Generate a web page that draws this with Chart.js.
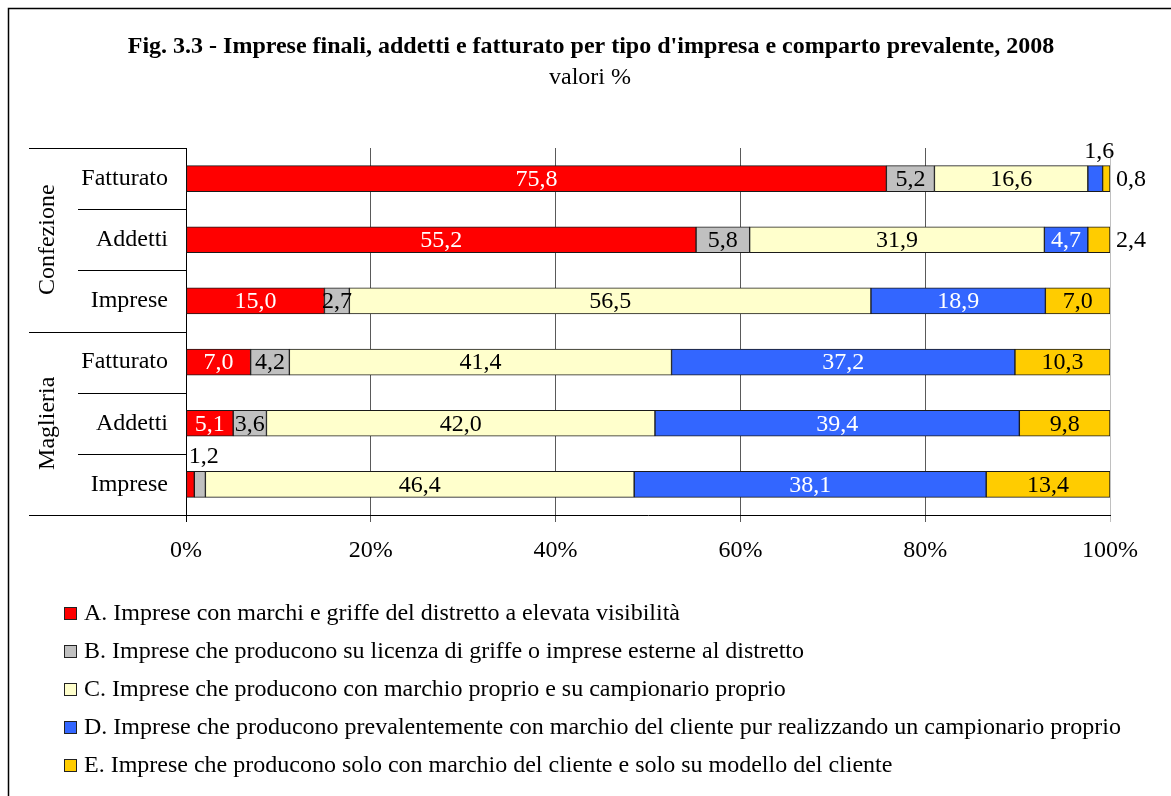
<!DOCTYPE html>
<html><head><meta charset="utf-8">
<script src="https://cdn.jsdelivr.net/npm/chart.js@4"></script>
<style>html,body{margin:0;padding:0;background:#fff;} canvas{display:block}</style>
</head><body>
<canvas id="c" width="1171" height="796"></canvas>
<script>
const titleText = "Fig. 3.3 - Imprese finali, addetti e fatturato per tipo d'impresa e comparto prevalente, 2008";
const subtitleText = "valori %";
const groups = ["Confezione", "Maglieria"];
const groupSize = 3;
const categories = ["Fatturato", "Addetti", "Imprese", "Fatturato", "Addetti", "Imprese"];
const seriesLabels = [
  "A. Imprese con marchi e griffe del distretto a elevata visibilità",
  "B. Imprese che producono su licenza di griffe o imprese esterne al distretto",
  "C. Imprese che producono con marchio proprio e su campionario proprio",
  "D. Imprese che producono prevalentemente con marchio del cliente pur realizzando un campionario proprio",
  "E. Imprese che producono solo con marchio del cliente e solo su modello del cliente"
];
const seriesA = [75.8, 55.2, 15.0, 7.0, 5.1, 0.9];
const seriesB = [5.2, 5.8, 2.7, 4.2, 3.6, 1.2];
const seriesC = [16.6, 31.9, 56.5, 41.4, 42.0, 46.4];
const seriesD = [1.6, 4.7, 18.9, 37.2, 39.4, 38.1];
const seriesE = [0.8, 2.4, 7.0, 10.3, 9.8, 13.4];
const xTickValues = [0, 20, 40, 60, 80, 100];

const allSeries = [seriesA, seriesB, seriesC, seriesD, seriesE];
const fillColors = ['#FF0000', '#C0C0C0', '#FFFFCC', '#3366FF', '#FFCC00'];
const textColors = ['#FFFFFF', '#000000', '#000000', '#FFFFFF', '#000000'];
const FONT = '"Liberation Serif", "Times New Roman", serif';
const FS = 24;

// 100% stacked: normalise each row for drawing
const rowTotals = categories.map((_, j) => allSeries.reduce((s, arr) => s + arr[j], 0));
const datasets = allSeries.map((arr, i) => ({
  label: seriesLabels[i],
  data: arr.map((v, j) => v * 100 / rowTotals[j]),
  backgroundColor: fillColors[i],
  borderColor: '#1a1a1a',
  borderWidth: 1,
  borderSkipped: false,
  barThickness: 26
}));

const fmt = v => v.toFixed(1).replace('.', ',');

const decorPlugin = {
  id: 'decor',
  beforeDraw(chart) {
    const ctx = chart.ctx;
    ctx.save();
    ctx.fillStyle = '#fff';
    ctx.fillRect(0, 0, chart.width, chart.height);
    ctx.strokeStyle = '#000';
    ctx.lineWidth = 1.5;
    ctx.strokeRect(8.5, 8.5, 3000, 3000);
    ctx.fillStyle = '#000';
    ctx.textAlign = 'center';
    ctx.textBaseline = 'middle';
    ctx.font = 'bold ' + FS + 'px ' + FONT;
    ctx.fillText(titleText, 591, 47);
    ctx.font = FS + 'px ' + FONT;
    ctx.fillText(subtitleText, 590, 78);
    ctx.restore();
  },
  afterDraw(chart) {
    const ctx = chart.ctx;
    const ys = chart.scales.y;
    const area = chart.chartArea;
    ctx.save();
    ctx.strokeStyle = '#000';
    ctx.lineWidth = 1;
    const line = (x1, y, x2) => {
      const yy = Math.round(y) + 0.5;
      ctx.beginPath(); ctx.moveTo(x1, yy); ctx.lineTo(x2, yy); ctx.stroke();
    };
    line(29, area.top, area.left);
    line(29, area.bottom, area.left);
    for (let j = 0; j < categories.length - 1; j++) {
      const yb = (ys.getPixelForValue(j) + ys.getPixelForValue(j + 1)) / 2;
      const isGroup = (j + 1) % groupSize === 0;
      line(isGroup ? 29 : 78, yb, area.left);
    }
    ctx.fillStyle = '#000';
    ctx.font = FS + 'px ' + FONT;
    ctx.textAlign = 'center';
    ctx.textBaseline = 'middle';
    groups.forEach((g, gi) => {
      const y1 = ys.getPixelForValue(gi * groupSize);
      const y2 = ys.getPixelForValue(gi * groupSize + groupSize - 1);
      ctx.save();
      ctx.translate(48, (y1 + y2) / 2);
      ctx.rotate(-Math.PI / 2);
      ctx.fillText(g, 0, 0);
      ctx.restore();
    });
    ctx.textAlign = 'left';
    chart.data.datasets.forEach((ds, i) => {
      const cy = 613 + 38 * i;
      ctx.fillStyle = ds.backgroundColor;
      ctx.fillRect(64, cy - 6, 13, 13);
      ctx.strokeStyle = '#222';
      ctx.strokeRect(64.5, cy - 5.5, 12, 12);
      ctx.fillStyle = '#000';
      ctx.fillText(ds.label, 84, cy + 1);
    });
    ctx.restore();
  },
  afterDatasetsDraw(chart) {
    const ctx = chart.ctx;
    ctx.save();
    ctx.font = FS + 'px ' + FONT;
    const last = allSeries.length - 1;
    allSeries.forEach((arr, i) => {
      const meta = chart.getDatasetMeta(i);
      meta.data.forEach((el, j) => {
        const v = arr[j];
        const p = el.getProps(['x', 'y', 'base', 'height'], true);
        const cx = (p.x + p.base) / 2;
        if (v >= 2.5) {
          ctx.fillStyle = textColors[i];
          ctx.textAlign = 'center';
          ctx.textBaseline = 'middle';
          ctx.fillText(fmt(v), cx, p.y + 1);
        } else if (i === last) {
          ctx.fillStyle = '#000';
          ctx.textAlign = 'left';
          ctx.textBaseline = 'middle';
          ctx.fillText(fmt(v), p.x + 6, p.y + 1);
        } else if (v >= 1) {
          ctx.fillStyle = '#000';
          ctx.textAlign = 'center';
          ctx.textBaseline = 'alphabetic';
          ctx.fillText(fmt(v), cx + 4, p.y - p.height / 2 - 8);
        }
      });
    });
    ctx.restore();
  }
};

new Chart(document.getElementById('c'), {
  type: 'bar',
  data: { labels: categories, datasets },
  options: {
    indexAxis: 'y',
    responsive: false,
    devicePixelRatio: 1,
    animation: false,
    events: [],
    layout: { padding: { left: 0, top: 148, right: 61, bottom: 221 } },
    plugins: { legend: { display: false }, title: { display: false }, tooltip: { enabled: false } },
    scales: {
      x: {
        stacked: true,
        min: 0, max: 100,
        afterBuildTicks: s => { s.ticks = xTickValues.map(v => ({ value: v })); },
        afterFit: s => { s.height = 60; },
        ticks: { callback: v => v + '%', color: '#000', font: { family: FONT, size: FS }, padding: 14, maxRotation: 0 },
        grid: {
          color: c => c.tick && c.tick.value === 0 ? '#000' : (c.tick && c.tick.value === 100 ? '#c0c0c0' : '#5a5a5a'),
          tickLength: 7, drawTicks: true
        },
        border: { display: true, color: '#000', width: 1 }
      },
      y: {
        stacked: true,
        afterFit: s => { s.width = 186; },
        ticks: { color: '#000', font: { family: FONT, size: FS }, padding: 18 },
        grid: { display: false, drawTicks: false },
        border: { display: true, color: '#000', width: 1 }
      }
    }
  },
  plugins: [decorPlugin]
});
</script>
</body></html>
